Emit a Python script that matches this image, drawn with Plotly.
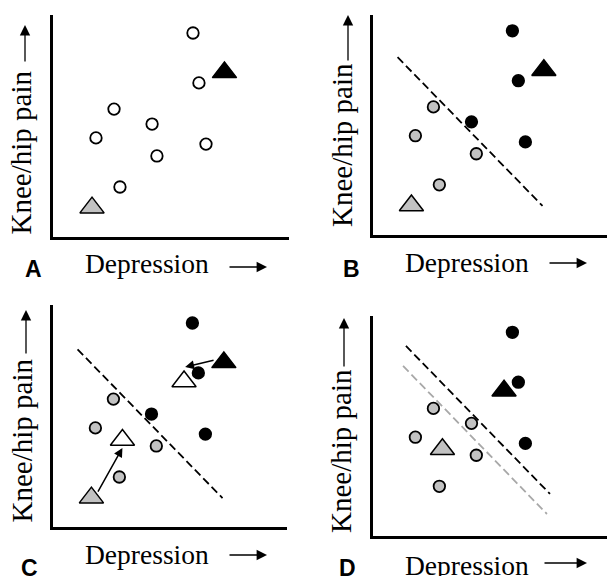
import plotly.graph_objects as go

W, H = 607, 576
SCALE = 22.0  # pixels per data unit (layout only)

# ---------------- data ----------------
depression = [6.35, 6.62, 2.76, 4.49, 1.94, 6.94, 4.71, 3.03]
pain = [9.26, 6.99, 5.80, 5.12, 4.49, 4.21, 3.67, 2.26]
cluster_initial = ["high", "high", "low", "high", "low", "high", "low", "low"]
cluster_updated = ["high", "high", "low", "low", "low", "high", "low", "low"]

# two new patients: [low-group patient, high-group patient]
patient_before_dep = [1.76, 7.78]
patient_before_pain = [1.32, 7.47]
patient_after_dep = [3.17, 5.97]
patient_after_pain = [3.94, 6.60]

# movement arrows (panel C)
arrow_tail_dep = [2.02, 7.38]
arrow_tail_pain = [1.53, 7.58]
arrow_tip_dep = [3.17, 6.02]
arrow_tip_pain = [3.58, 7.26]

# decision boundaries
boundary_initial_dep = [1.13, 7.72]
boundary_initial_pain = [8.06, 1.30]
boundary_previous_dep = [1.38, 7.92]
boundary_previous_pain = [7.73, 1.00]
boundary_updated_dep = [1.51, 8.06]
boundary_updated_pain = [8.64, 1.91]

panel_letters = ["A", "B", "C", "D"]
x_title = "Depression"
y_title = "Knee/hip pain"

# ---------------- layout geometry ----------------
panels = [
    dict(left=53.3, right=289, top=15, bottom=236.7),
    dict(left=372.7, right=607, top=15, bottom=234.5),
    dict(left=52.7, right=287, top=305, bottom=526.7),
    dict(left=372.7, right=607, top=316, bottom=536),
]

GRAY = "#c2c2c2"
LGRAY = "#a8a8a8"
CIRC = 11.5
TRI = 21

fig = go.Figure()


def ax_names(i):
    s = "" if i == 0 else str(i + 1)
    return "x" + s, "y" + s


def circles(i, idx, fill):
    xa, ya = ax_names(i)
    fig.add_trace(go.Scatter(
        x=[depression[k] for k in idx], y=[pain[k] for k in idx],
        mode="markers", xaxis=xa, yaxis=ya, cliponaxis=False,
        marker=dict(symbol="circle", size=CIRC, color=fill,
                    line=dict(color="black", width=1.8))))


def triangle(i, x, y, fill):
    xa, ya = ax_names(i)
    fig.add_trace(go.Scatter(
        x=[x], y=[y], mode="markers", xaxis=xa, yaxis=ya, cliponaxis=False,
        marker=dict(symbol="triangle-up", size=TRI, color=fill,
                    line=dict(color="black", width=1.5))))


def line(i, xs, ys, color):
    xa, ya = ax_names(i)
    fig.add_trace(go.Scatter(
        x=xs, y=ys, mode="lines", xaxis=xa, yaxis=ya,
        line=dict(color=color, width=1.8, dash="8px,4px")))


def by_cluster(labels, name):
    return [k for k, c in enumerate(labels) if c == name]


# Panel A
circles(0, list(range(len(depression))), "white")
triangle(0, patient_before_dep[0], patient_before_pain[0], GRAY)
triangle(0, patient_before_dep[1], patient_before_pain[1], "black")

# Panel B
line(1, boundary_initial_dep, boundary_initial_pain, "black")
circles(1, by_cluster(cluster_initial, "low"), GRAY)
circles(1, by_cluster(cluster_initial, "high"), "black")
triangle(1, patient_before_dep[0], patient_before_pain[0], GRAY)
triangle(1, patient_before_dep[1], patient_before_pain[1], "black")

# Panel C
line(2, boundary_initial_dep, boundary_initial_pain, "black")
circles(2, by_cluster(cluster_initial, "low"), GRAY)
circles(2, by_cluster(cluster_initial, "high"), "black")
triangle(2, patient_before_dep[0], patient_before_pain[0], GRAY)
triangle(2, patient_before_dep[1], patient_before_pain[1], "black")
triangle(2, patient_after_dep[0], patient_after_pain[0], "white")
triangle(2, patient_after_dep[1], patient_after_pain[1], "white")

# Panel D
line(3, boundary_previous_dep, boundary_previous_pain, LGRAY)
line(3, boundary_updated_dep, boundary_updated_pain, "black")
circles(3, by_cluster(cluster_updated, "low"), GRAY)
circles(3, by_cluster(cluster_updated, "high"), "black")
triangle(3, patient_after_dep[0], patient_after_pain[0], GRAY)
triangle(3, patient_after_dep[1], patient_after_pain[1], "black")

layout = dict(width=W, height=H, margin=dict(l=0, r=0, t=0, b=0),
              paper_bgcolor="white", plot_bgcolor="rgba(0,0,0,0)",
              showlegend=False)

for i, p in enumerate(panels):
    s = "" if i == 0 else str(i + 1)
    common = dict(showgrid=False, zeroline=False, showticklabels=False,
                  ticks="", showline=True, linecolor="black", linewidth=3,
                  fixedrange=True)
    layout["xaxis" + s] = dict(domain=[p["left"] / W, p["right"] / W],
                               range=[0, (p["right"] - p["left"]) / SCALE],
                               anchor="y" + s, **common)
    layout["yaxis" + s] = dict(domain=[1 - p["bottom"] / H, 1 - p["top"] / H],
                               range=[0, (p["bottom"] - p["top"]) / SCALE],
                               anchor="x" + s, **common)

fig.update_layout(**layout)

XFONT = dict(family="Liberation Serif", size=27.5, color="black")
YFONT = dict(family="Liberation Serif", size=29, color="black")
SANS = dict(family="Liberation Sans", size=23, color="black", weight="bold")


def px(x):
    return x / W


def py(y):
    return 1 - y / H


xlab_pos = [(146.5, 263.7), (466.5, 262.7), (146.5, 554.7), (467, 565.7)]
ylab_pos = [(20, 152.5), (341.5, 145.5), (21.5, 441), (340.5, 451.5)]
letter_pos = [(33.5, 269), (351, 269), (29, 568), (347, 568)]
harrow = [(228, 267, 267), (548, 587, 263), (228, 267, 555), (543, 587, 563)]
varrow = [(25, 63, 25), (348, 62, 15), (26, 355, 310), (344, 368, 318)]

ann = []
for i in range(4):
    ann.append(dict(text=x_title, x=px(xlab_pos[i][0]), y=py(xlab_pos[i][1]),
                    xref="paper", yref="paper", showarrow=False, font=XFONT,
                    xanchor="center", yanchor="middle"))
    ann.append(dict(text=y_title, x=px(ylab_pos[i][0]), y=py(ylab_pos[i][1]),
                    xref="paper", yref="paper", showarrow=False, font=YFONT,
                    textangle=-90, xanchor="center", yanchor="middle"))
    ann.append(dict(text=panel_letters[i], x=px(letter_pos[i][0]),
                    y=py(letter_pos[i][1]), xref="paper", yref="paper",
                    showarrow=False, font=SANS, xanchor="center",
                    yanchor="middle"))
    t0, t1, yy = harrow[i]
    ann.append(dict(text="", x=px(t1), y=py(yy), xref="paper", yref="paper",
                    showarrow=True, ax=t0 - t1, ay=0, arrowhead=2,
                    arrowsize=1.6, arrowwidth=1.3, arrowcolor="black",
                    standoff=0, startstandoff=0))
    xx, y0, y1 = varrow[i]
    ann.append(dict(text="", x=px(xx), y=py(y1), xref="paper", yref="paper",
                    showarrow=True, ax=0, ay=y0 - y1, arrowhead=2,
                    arrowsize=1.6, arrowwidth=1.3, arrowcolor="black",
                    standoff=0, startstandoff=0))

# movement arrows in panel C (data coordinates)
for k in range(2):
    ann.append(dict(text="", x=arrow_tip_dep[k], y=arrow_tip_pain[k],
                    xref="x3", yref="y3", axref="x3", ayref="y3",
                    ax=arrow_tail_dep[k], ay=arrow_tail_pain[k],
                    showarrow=True, arrowhead=2, arrowsize=1.2,
                    arrowwidth=1.5, arrowcolor="black", standoff=0,
                    startstandoff=0))

fig.update_layout(annotations=ann)
fig.write_html("out.html",
               config={"displayModeBar": False},
               post_script="document.body.style.margin='0px';"
                           "document.body.style.overflow='hidden';")
